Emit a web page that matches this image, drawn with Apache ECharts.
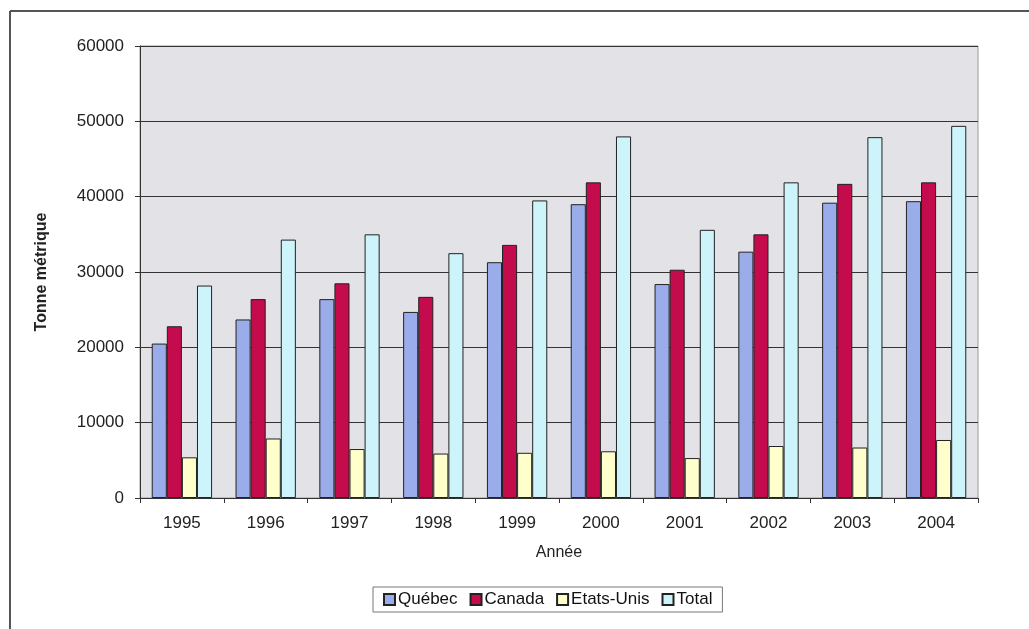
<!DOCTYPE html>
<html>
<head>
<meta charset="utf-8">
<script src="https://cdn.jsdelivr.net/npm/echarts@6/dist/echarts.min.js"></script>
<style>
html,body{margin:0;padding:0;background:#fff;}
#c{width:1029px;height:629px;}
</style>
</head>
<body>
<div id="c"></div>
<script>
const years = ['1995','1996','1997','1998','1999','2000','2001','2002','2003','2004'];
const quebec = [20500, 23700, 26400, 24700, 31300, 39000, 28400, 32700, 39200, 39400];
const canada = [22800, 26400, 28500, 26700, 33600, 41900, 30300, 35000, 41700, 41900];
const etatsUnis = [5400, 7900, 6500, 5900, 6000, 6200, 5300, 6900, 6700, 7700];
const total = [28200, 34300, 35000, 32500, 39500, 48000, 35600, 41900, 47900, 49400];
const yTicks = [0, 10000, 20000, 30000, 40000, 50000, 60000];

const font = 'Liberation Sans, Arial, sans-serif';
const chart = echarts.init(document.getElementById('c'));
const mk = (name, data, color) => ({
  name, type: 'bar', data,
  barGap: '0%', barCategoryGap: '28%',
  itemStyle: { color, borderColor: '#222', borderWidth: 1 },
  emphasis: { disabled: true }
});
chart.setOption({
  animation: false,
  backgroundColor: '#fff',
  graphic: [
    { type: 'line', shape: { x1: 10, y1: 11, x2: 1029, y2: 11 }, style: { stroke: '#555', lineWidth: 2 } },
    { type: 'line', shape: { x1: 10, y1: 11, x2: 10, y2: 629 }, style: { stroke: '#555', lineWidth: 2 } }
  ],
  grid: {
    left: 140, right: 51, top: 46, bottom: 131,
    show: true, backgroundColor: '#E3E3E7', borderColor: '#999', borderWidth: 1
  },
  legend: {
    left: 373, top: 587,
    data: ['Québec', 'Canada', 'Etats-Unis', 'Total'],
    icon: 'rect', itemWidth: 11, itemHeight: 11, itemGap: 12,
    padding: [4, 10], borderColor: '#777', borderWidth: 1,
    textStyle: { fontFamily: font, fontSize: 17, color: '#111', padding: [0, 0, 0, -2] }
  },
  xAxis: {
    type: 'category', data: years,
    name: 'Année', nameLocation: 'middle', nameGap: 47,
    nameTextStyle: { fontFamily: font, fontSize: 16, color: '#222' },
    axisLine: { lineStyle: { color: '#333' } },
    axisTick: { show: true, length: 5, lineStyle: { color: '#333' } },
    axisLabel: { fontFamily: font, fontSize: 17, color: '#222', margin: 17 }
  },
  yAxis: {
    type: 'value', min: yTicks[0], max: yTicks[yTicks.length - 1], interval: 10000,
    name: 'Tonne métrique', nameLocation: 'middle', nameGap: 90,
    nameTextStyle: { fontFamily: font, fontSize: 16, fontWeight: 'bold', color: '#222' },
    axisLine: { show: true, lineStyle: { color: '#333' } },
    axisTick: { show: true, length: 5, lineStyle: { color: '#333' } },
    axisLabel: { fontFamily: font, fontSize: 17, color: '#222', margin: 16, formatter: v => String(v) },
    splitLine: { lineStyle: { color: '#333', width: 1 } }
  },
  series: [
    mk('Québec', quebec, '#9AACEA'),
    mk('Canada', canada, '#C40C4C'),
    mk('Etats-Unis', etatsUnis, '#FFFFCC'),
    mk('Total', total, '#CCF4FA')
  ]
});
</script>
</body>
</html>
